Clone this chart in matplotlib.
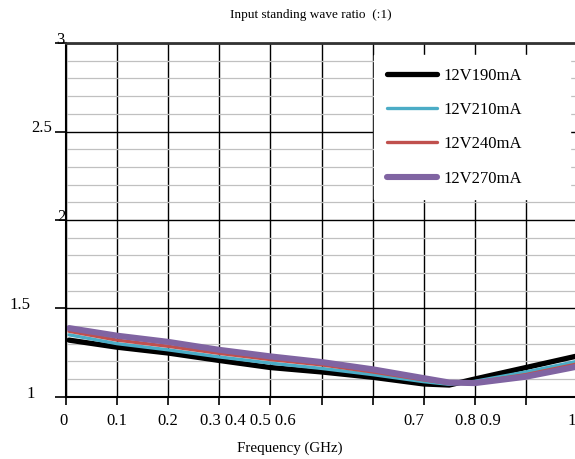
import numpy as np
import matplotlib.pyplot as plt
from matplotlib.ticker import MultipleLocator

plt.rcParams['font.family'] = ['Liberation Serif', 'DejaVu Serif']

freq = [0.006, 0.1, 0.2, 0.3, 0.4, 0.5, 0.6, 0.7, 0.75, 0.8, 0.9, 1.0]
vswr_190 = [1.32, 1.28, 1.247, 1.205, 1.165, 1.14, 1.11, 1.072, 1.066, 1.10, 1.165, 1.23]
vswr_210 = [1.35, 1.30, 1.265, 1.225, 1.19, 1.16, 1.125, 1.085, 1.07, 1.087, 1.14, 1.20]
vswr_240 = [1.37, 1.32, 1.285, 1.245, 1.21, 1.18, 1.14, 1.095, 1.075, 1.082, 1.125, 1.185]
vswr_270 = [1.388, 1.345, 1.31, 1.265, 1.228, 1.196, 1.155, 1.105, 1.08, 1.077, 1.113, 1.17]
series_labels = ['12V190mA', '12V210mA', '12V240mA', '12V270mA']

x_tick_text = ['0', '0.1', '0.2', '0.3 0.4 0.5 0.6', '0.7', '0.8 0.9', '1']
x_tick_pos = [-0.005, 0.1, 0.2, 0.356, 0.68, 0.806, 0.99]
y_tick_text = ['3', '2.5', '2', '1.5', '1']
y_tick_val = [3, 2.5, 2, 1.5, 1]
y_tick_px = [60, 42, 61, 20, 31]

fig = plt.figure(figsize=(5.75, 4.59), dpi=100)
ax = fig.add_axes([66 / 575, 62.3 / 459, 511 / 575, 353.6 / 459])

colors = ['#000000', '#4bacc6', '#c0504d', '#8064a2']
widths = [3.8, 2.4, 2.4, 4.4]
for ys, lab, c, w in zip([vswr_190, vswr_210, vswr_240, vswr_270], series_labels, colors, widths):
    ax.plot(freq, ys, color=c, lw=w, label=lab, solid_capstyle='round')

ax.set_xlim(0, 1)
ax.set_ylim(1, 3)
ax.xaxis.set_major_locator(MultipleLocator(0.1))
ax.yaxis.set_major_locator(MultipleLocator(0.5))
ax.yaxis.set_minor_locator(MultipleLocator(0.1))
ax.grid(which='major', axis='both', color='black', lw=1.0)
ax.grid(which='minor', axis='y', color='#c0c0c0', lw=0.9)
ax.set_axisbelow(True)
ax.tick_params(axis='x', which='major', direction='out', length=6, width=1.2, labelbottom=False)
ax.tick_params(axis='y', which='major', direction='out', length=8, width=1.2, labelleft=False)
ax.tick_params(axis='y', which='minor', length=0)
for s in ['left', 'bottom']:
    ax.spines[s].set_linewidth(1.5)
ax.spines['top'].set_linewidth(2)
ax.spines['top'].set_color('#333333')

for t, xp in zip(x_tick_text, x_tick_pos):
    ax.text(xp, -0.07, t, transform=ax.transAxes, ha='center', va='center', fontsize=12)
for t, v, px in zip(y_tick_text, y_tick_val, y_tick_px):
    ax.text(px / 575, 1 - (396.7 - 3 - (v - 1) * 176.8) / 459, t,
            transform=fig.transFigure, ha='center', va='center', fontsize=12)

fig.text(311 / 575, 1 - 15 / 459, 'Input standing wave ratio  (:1)', ha='center', va='center', fontsize=9.5)
fig.text(290 / 575, 1 - 448 / 459, 'Frequency (GHz)', ha='center', va='center', fontsize=10.8)

leg = ax.legend(loc='upper left', bbox_to_anchor=(0.603, 0.0, 0.383, 0.966), mode='expand',
                frameon=True, fancybox=False, edgecolor='white', framealpha=1, fontsize=12,
                handlelength=3.0, labelspacing=1.1, handletextpad=0.4, borderpad=0.75,
                borderaxespad=0)

fig.savefig('out.png', dpi=100)
